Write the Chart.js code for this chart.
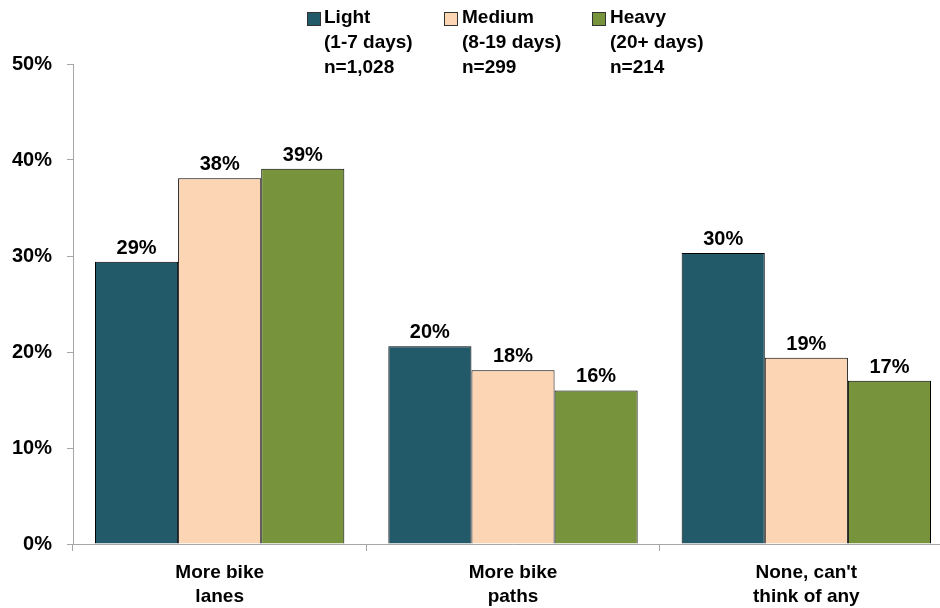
<!DOCTYPE html>
<html>
<head>
<meta charset="utf-8">
<script src="https://cdn.jsdelivr.net/npm/chart.js@4"></script>
<style>
  html, body { margin: 0; padding: 0; background: #fff; }
  #wrap { position: relative; width: 940px; height: 608px; overflow: hidden; }
  #chart { position: absolute; left: 0; top: 0; }
  .legend-item { position: absolute; top: 4px; font: bold 19px "Liberation Sans", Arial, sans-serif; line-height: 25px; color: #000; white-space: nowrap; }
  .legend-box { position: absolute; top: 12px; width: 12px; height: 12px; border: 1px solid #333; }
</style>
</head>
<body>
<div id="wrap">
  <canvas id="chart" width="960" height="608"></canvas>
  <div id="legend"></div>
</div>
<script>
// Categories (multi-line labels)
const CATEGORIES = [['More bike', 'lanes'], ['More bike', 'paths'], ['None, can\'t', 'think of any']];

// Series values (percent)
const LIGHT = [29.4, 20.6, 30.3];
const MEDIUM = [38.1, 18.1, 19.4];
const HEAVY = [39.1, 16.0, 17.0];

// Labels printed above the bars
const LIGHT_LABELS = ['29%', '20%', '30%'];
const MEDIUM_LABELS = ['38%', '18%', '19%'];
const HEAVY_LABELS = ['39%', '16%', '17%'];

// Legend text
const SERIES_NAMES = ['Light', 'Medium', 'Heavy'];
const SERIES_SUB = ['(1-7 days)', '(8-19 days)', '(20+ days)'];
const SERIES_N = ['n=1,028', 'n=299', 'n=214'];

// Y axis ticks
const Y_TICKS = [0, 10, 20, 30, 40, 50];

const COLORS = ['#235a6a', '#fcd5b5', '#77933c'];
const FONT = '"Liberation Sans", Arial, sans-serif';

// Build HTML legend
function buildLegend() {
  const legend = document.getElementById('legend');
  const boxX = [307, 444, 592];
  const textX = [324, 462, 610];
  SERIES_NAMES.forEach((name, i) => {
    const box = document.createElement('div');
    box.className = 'legend-box';
    box.style.left = boxX[i] + 'px';
    box.style.background = COLORS[i];
    legend.appendChild(box);

    const item = document.createElement('div');
    item.className = 'legend-item';
    item.style.left = textX[i] + 'px';
    item.innerHTML = name + '<br>' + SERIES_SUB[i] + '<br>' + SERIES_N[i];
    legend.appendChild(item);
  });
}

// Draw the value labels above each bar
const barLabels = {
  id: 'barLabels',
  afterDatasetsDraw(chart) {
    const ctx = chart.ctx;
    ctx.save();
    ctx.font = 'bold 20px ' + FONT;
    ctx.fillStyle = '#000';
    ctx.textAlign = 'center';
    ctx.textBaseline = 'alphabetic';
    chart.data.datasets.forEach((ds, i) => {
      const meta = chart.getDatasetMeta(i);
      meta.data.forEach((bar, j) => {
        ctx.fillText(ds.valueLabels[j], bar.x, bar.y - 8);
      });
    });
    ctx.restore();
  }
};

function makeDataset(label, data, labels, color) {
  return {
    label: label,
    data: data,
    valueLabels: labels,
    backgroundColor: color,
    borderColor: '#000',
    borderWidth: 1,
    categoryPercentage: 0.85,
    barPercentage: 1.0
  };
}

buildLegend();

new Chart(document.getElementById('chart'), {
  type: 'bar',
  data: {
    labels: CATEGORIES,
    datasets: [
      makeDataset(SERIES_NAMES[0], LIGHT, LIGHT_LABELS, COLORS[0]),
      makeDataset(SERIES_NAMES[1], MEDIUM, MEDIUM_LABELS, COLORS[1]),
      makeDataset(SERIES_NAMES[2], HEAVY, HEAVY_LABELS, COLORS[2])
    ]
  },
  options: {
    responsive: false,
    animation: false,
    devicePixelRatio: 1,
    layout: { padding: { top: 64, right: 7, bottom: 0, left: 0 } },
    plugins: {
      legend: { display: false },
      tooltip: { enabled: false }
    },
    scales: {
      x: {
        grid: { offset: true, drawOnChartArea: false, drawTicks: true, tickLength: 7, color: '#a6a6a6' },
        border: { display: true, color: '#a6a6a6' },
        ticks: {
          color: '#000',
          font: { family: FONT, size: 19, weight: 'bold', lineHeight: 1.3 },
          padding: 9,
          maxRotation: 0,
          autoSkip: false
        },
        afterFit(scale) { scale.height = 64; }
      },
      y: {
        min: 0,
        max: 50,
        afterBuildTicks(scale) { scale.ticks = Y_TICKS.map(v => ({ value: v })); },
        grid: { drawOnChartArea: false, drawTicks: true, tickLength: 6, color: '#a6a6a6' },
        border: { display: true, color: '#a6a6a6' },
        ticks: {
          color: '#000',
          font: { family: FONT, size: 20, weight: 'bold' },
          padding: 15,
          callback: v => v + '%'
        },
        afterFit(scale) { scale.width = 73; }
      }
    }
  },
  plugins: [barLabels]
});
</script>
</body>
</html>
